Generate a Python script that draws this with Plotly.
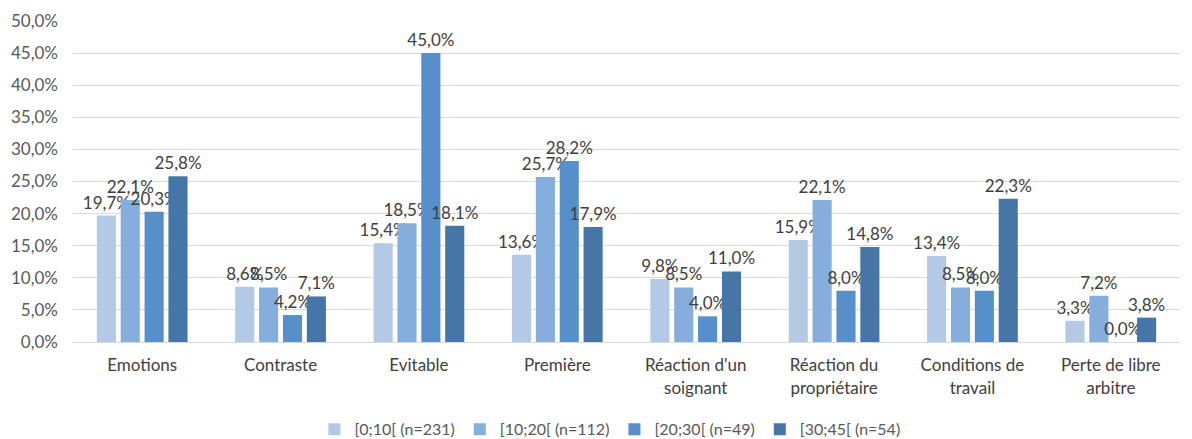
import plotly.graph_objects as go

categories = ["Emotions", "Contraste", "Evitable", "Première", "Réaction d'un<br>soignant",
              "Réaction du<br>propriétaire", "Conditions de<br>travail", "Perte de libre<br>arbitre"]
series_names = ["[0;10[ (n=231)", "[10;20[ (n=112)", "[20;30[ (n=49)", "[30;45[ (n=54)"]
s1 = [19.7, 8.6, 15.4, 13.6, 9.8, 15.9, 13.4, 3.3]
s2 = [22.1, 8.5, 18.5, 25.7, 8.5, 22.1, 8.5, 7.2]
s3 = [20.3, 4.2, 45.0, 28.2, 4.0, 8.0, 8.0, 0.0]
s4 = [25.8, 7.1, 18.1, 17.9, 11.0, 14.8, 22.3, 3.8]
colors = ["#B4C9E6", "#86AEDC", "#568FCA", "#4676A8"]
tick_vals = [0, 5, 10, 15, 20, 25, 30, 35, 40, 45, 50]
tick_text = [f"{v:.1f}%".replace(".", ",") for v in tick_vals]

font = "Lato, Open Sans, sans-serif"
fig = go.Figure()
for name, vals, col in zip(series_names, [s1, s2, s3, s4], colors):
    fig.add_trace(go.Bar(
        x=categories, y=vals, name=name, marker_color=col,
        marker_line_width=0,
        text=[f"{v:.1f}%".replace(".", ",") for v in vals],
        textposition="outside", constraintext="none", cliponaxis=False,
        textfont=dict(size=17, color="#404040", family=font),
    ))

fig.update_layout(
    width=1192, height=439,
    margin=dict(l=73, r=12, t=21, b=97, autoexpand=False),
    paper_bgcolor="white", plot_bgcolor="white",
    barmode="group", bargap=0.31, bargroupgap=0.2,
    font=dict(family=font, size=17, color="#595959"),
    legend=dict(orientation="h", x=0.485, xanchor="center", y=-0.325, yanchor="bottom",
                font=dict(size=16, color="#595959", family=font), itemwidth=30,
                traceorder="normal"),
    showlegend=True,
)
fig.update_yaxes(range=[0, 50], tickvals=tick_vals, ticktext=tick_text, automargin=False,
                 showgrid=True, gridcolor="#D9D9D9", gridwidth=1, zeroline=False,
                 tickfont=dict(size=17, color="#595959"), ticks="", ticklen=0,
                 ticklabelstandoff=14)
fig.update_xaxes(showline=True, linecolor="#D9D9D9", linewidth=1, automargin=False,
                 tickfont=dict(size=17, color="#404040"), ticks="", ticklabelstandoff=8)

fig.write_html("out.html", config={"displayModeBar": False},
               post_script="document.body.style.margin='0px';document.body.style.overflow='hidden';")
